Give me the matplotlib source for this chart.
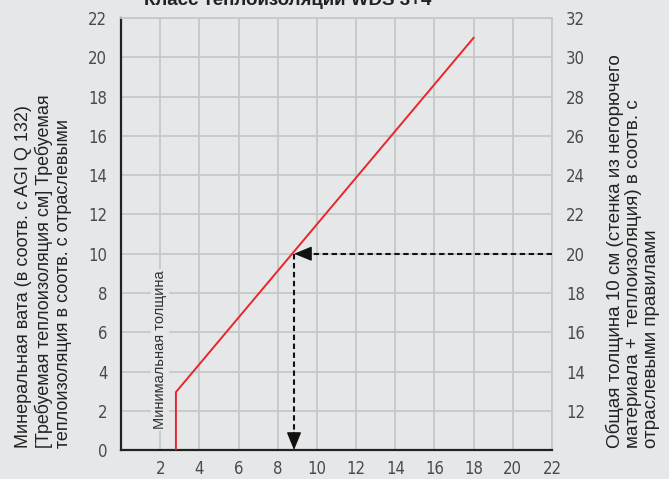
import matplotlib.pyplot as plt

# red curve: required insulation thickness
curve_x = [2.8, 2.8, 18.0]
curve_y = [0.0, 2.95, 21.0]

# reading example (dashed arrows)
read_x = 8.83
read_y = 10.0
read_start_x = 22.0

x_ticks = [2, 4, 6, 8, 10, 12, 14, 16, 18, 20, 22]
y_ticks = [0, 2, 4, 6, 8, 10, 12, 14, 16, 18, 20, 22]
right_ticks = [2, 4, 6, 8, 10, 12, 14, 16, 18, 20, 22]
right_labels = ["12", "14", "16", "18", "20", "22", "24", "26", "28", "30", "32"]

bg = "#e6e7e9"
grid_col = "#c6c7c9"
tick_col = "#4a4a4a"

plt.rcParams["font.family"] = ["Liberation Sans", "DejaVu Sans"]


def style_ticks(labels):
    for lbl in labels:
        lbl.set_family("DejaVu Sans")
        lbl.set_stretch("condensed")


fig = plt.figure(figsize=(6.69, 4.79), dpi=100, facecolor=bg)
ax = fig.add_axes([0.181, 0.0605, 0.644, 0.9015])
ax.set_facecolor(bg)

ax.set_xlim(0, 22)
ax.set_ylim(0, 22)
ax.set_xticks(x_ticks)
ax.set_yticks(y_ticks)
ax.grid(True, color=grid_col, linewidth=1.3)
ax.set_axisbelow(True)
ax.tick_params(length=0, labelsize=12, colors=tick_col, pad=10)
ax.tick_params(axis="x", pad=7)
style_ticks(ax.get_xticklabels() + ax.get_yticklabels())

for side in ["top", "right"]:
    ax.spines[side].set_color(grid_col)
    ax.spines[side].set_linewidth(1.3)
for side in ["left", "bottom"]:
    ax.spines[side].set_color("#222222")
    ax.spines[side].set_linewidth(1.6)

ax.plot(curve_x, curve_y, color="#e8262b", linewidth=1.4, zorder=3)

# dashed reading lines, solid arrow heads
dash = (0, (2.6, 1.7))
ax.plot([read_start_x, read_x + 0.7], [read_y, read_y], color="#111111",
        lw=1.5, linestyle=dash, zorder=4)
ax.plot([read_x, read_x], [read_y, 0.8], color="#111111",
        lw=1.5, linestyle=dash, zorder=4)
head = "-|>,head_length=1.1,head_width=0.45"
ax.annotate("", xy=(read_x, read_y), xytext=(read_x + 0.8, read_y),
            arrowprops=dict(arrowstyle=head, color="#111111", lw=1.0,
                            shrinkA=0, shrinkB=0), zorder=5)
ax.annotate("", xy=(read_x, 0), xytext=(read_x, 0.9),
            arrowprops=dict(arrowstyle=head, color="#111111", lw=1.0,
                            shrinkA=0, shrinkB=0), zorder=5)

ax.text(2.0, 5.1, "Минимальная толщина", rotation=90, ha="center", va="center",
        fontsize=10.5, color="#333333",
        bbox=dict(facecolor=bg, edgecolor="none", pad=1.5), zorder=2)

ax2 = ax.twinx()
ax2.set_ylim(0, 22)
ax2.set_yticks(right_ticks)
ax2.set_yticklabels(right_labels)
ax2.tick_params(length=0, labelsize=12, colors=tick_col, pad=10)
style_ticks(ax2.get_yticklabels())
for s in ax2.spines.values():
    s.set_visible(False)

fig.text(0.43, 0.998, "Класс теплоизоляции WDS 3+4", ha="center", va="center",
         fontsize=13.5, fontweight="bold", color="#222222")

fig.text(0.065, 0.065,
         "Минеральная вата (в соотв. с AGI Q 132)\n"
         "[Требуемая теплоизоляция см] Требуемая\n"
         "теплоизоляция в соотв. с отраслевыми",
         rotation=90, ha="center", va="bottom", fontsize=13,
         color="#222222", linespacing=1.15, multialignment="left")

fig.text(0.946, 0.065,
         "Общая толщина 10 см (стенка из негорючего\n"
         "материала +  теплоизоляция) в соотв. с\n"
         "отраслевыми правилами",
         rotation=90, ha="center", va="bottom", fontsize=13.6,
         color="#222222", linespacing=1.1, multialignment="left")

fig.savefig("out.png", dpi=100, facecolor=bg)
